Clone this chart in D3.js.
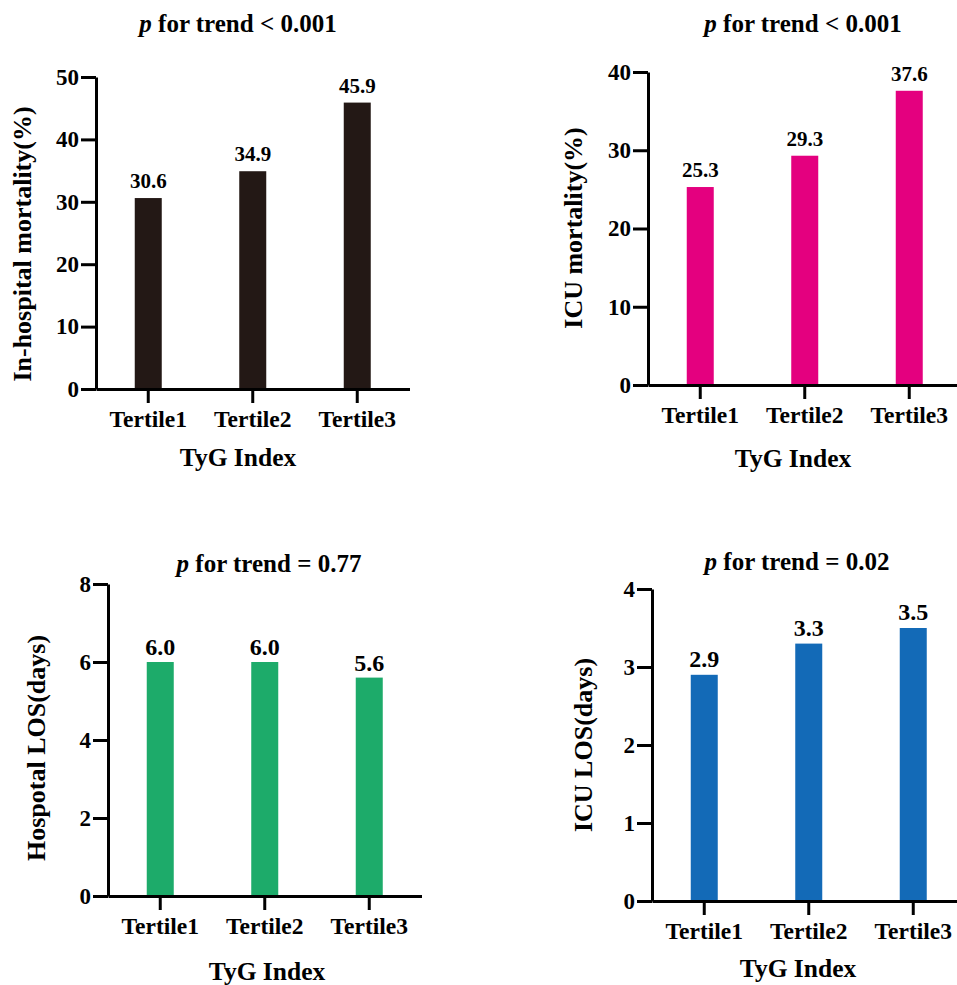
<!DOCTYPE html>
<html>
<head>
<meta charset="utf-8">
<script src="https://cdn.jsdelivr.net/npm/d3@7"></script>
<style>
  body { margin: 0; background: #fff; }
  svg { display: block; font-family: "Liberation Serif", "Times New Roman", serif; font-weight: bold; }
  .axis path, .axis line { stroke: #000; stroke-width: 3; }
  .axis text { fill: #000; font-weight: bold; }
</style>
</head>
<body>
<div id="chart"></div>
<script>
const categories = ["Tertile1", "Tertile2", "Tertile3"];

const inHospitalMortality = [30.6, 34.9, 45.9];
const icuMortality = [25.3, 29.3, 37.6];
const hospitalLOS = [6.0, 6.0, 5.6];
const icuLOS = [2.9, 3.3, 3.5];

const trendTexts = ["< 0.001", "< 0.001", "= 0.77", "= 0.02"];
const yLabels = ["In-hospital mortality(%)", "ICU mortality(%)", "Hospotal LOS(days)", "ICU LOS(days)"];
const xLabel = "TyG Index";

const yTicks1 = [0, 10, 20, 30, 40, 50];
const yTicks2 = [0, 10, 20, 30, 40];
const yTicks3 = [0, 2, 4, 6, 8];
const yTicks4 = [0, 1, 2, 3, 4];

// panel placement in page pixels
const panels = [
  { values: inHospitalMortality, ticks: yTicks1, color: "#231815", x0: 96, top: 77, bottom: 389,
    titleX: 238, titleY: 32, xLabX: 238, xLabY: 466, yLabX: 31, yLabY: 244, valSize: 21, valGap: 10 },
  { values: icuMortality, ticks: yTicks2, color: "#e4007f", x0: 648, top: 72, bottom: 385,
    titleX: 803, titleY: 32, xLabX: 793, xLabY: 467, yLabX: 582, yLabY: 228, valSize: 21, valGap: 10 },
  { values: hospitalLOS, ticks: yTicks3, color: "#1dab6a", x0: 108, top: 584, bottom: 896,
    titleX: 269, titleY: 572, xLabX: 267, xLabY: 980, yLabX: 45, yLabY: 748, valSize: 24, valGap: 7 },
  { values: icuLOS, ticks: yTicks4, color: "#136ab7", x0: 652, top: 589, bottom: 901,
    titleX: 797, titleY: 570, xLabX: 798, xLabY: 977, yLabX: 592, yLabY: 745, valSize: 24, valGap: 8 },
];

const width = 957;
const height = 985;
const barWidth = 27;
const axisLength = 313.5;
const fontFamily = '"Liberation Serif", "Times New Roman", serif';

const svg = d3.select("#chart")
  .append("svg")
  .attr("width", width)
  .attr("height", height);

panels.forEach((p, i) => {
  const x = d3.scaleBand()
    .domain(categories)
    .range([p.x0, p.x0 + axisLength]);

  const y = d3.scaleLinear()
    .domain([0, d3.max(p.ticks)])
    .range([p.bottom, p.top]);

  const g = svg.append("g");

  // bars
  g.selectAll("rect")
    .data(p.values)
    .join("rect")
    .attr("x", (d, j) => x(categories[j]) + x.bandwidth() / 2 - barWidth / 2)
    .attr("y", d => y(d))
    .attr("width", barWidth)
    .attr("height", d => y(0) - y(d))
    .attr("fill", p.color);

  // value labels
  g.selectAll(".val")
    .data(p.values)
    .join("text")
    .attr("class", "val")
    .attr("x", (d, j) => x(categories[j]) + x.bandwidth() / 2)
    .attr("y", d => y(d) - p.valGap)
    .attr("text-anchor", "middle")
    .attr("font-size", p.valSize)
    .text(d => d.toFixed(1));

  // axes
  g.append("g")
    .attr("class", "axis")
    .attr("transform", `translate(0,${p.bottom})`)
    .call(d3.axisBottom(x).tickSize(14).tickSizeOuter(0).tickPadding(7))
    .attr("font-family", fontFamily)
    .attr("font-size", 23.5);

  g.append("g")
    .attr("class", "axis")
    .attr("transform", `translate(${p.x0},0)`)
    .call(d3.axisLeft(y).tickValues(p.ticks).tickFormat(d3.format("d"))
      .tickSize(15).tickSizeOuter(0).tickPadding(2))
    .attr("font-family", fontFamily)
    .attr("font-size", 23);

  // title
  const t = g.append("text")
    .attr("x", p.titleX)
    .attr("y", p.titleY)
    .attr("text-anchor", "middle")
    .attr("font-size", 25);
  t.append("tspan").attr("font-style", "italic").text("p");
  t.append("tspan").text(" for trend " + trendTexts[i]);

  // axis titles
  g.append("text")
    .attr("x", p.xLabX)
    .attr("y", p.xLabY)
    .attr("text-anchor", "middle")
    .attr("font-size", 25.5)
    .text(xLabel);

  g.append("text")
    .attr("transform", `translate(${p.yLabX},${p.yLabY}) rotate(-90)`)
    .attr("text-anchor", "middle")
    .attr("font-size", 26)
    .text(yLabels[i]);
});
</script>
</body>
</html>
